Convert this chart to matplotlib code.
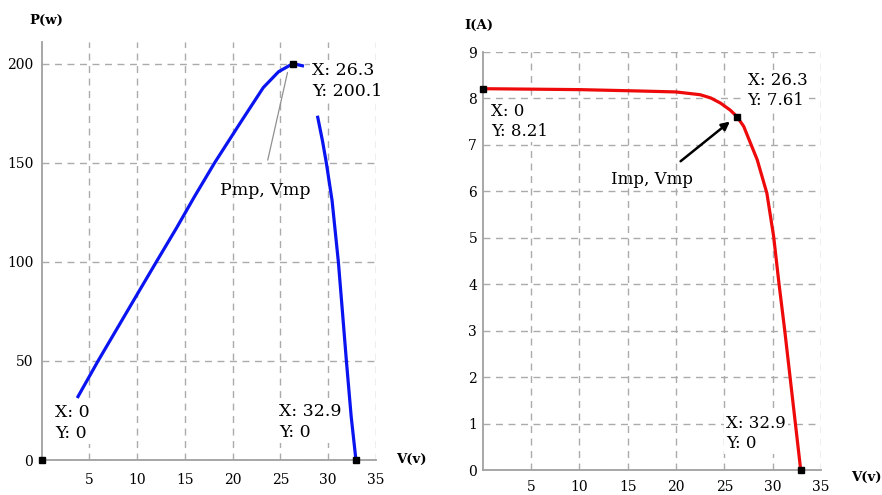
import matplotlib
matplotlib.use("Agg")
import matplotlib.pyplot as plt

nan = float("nan")

# P-V curve; the data tips hide parts of it, hence the gaps
pv_v = [3.8, 5.9, 9.8, 12.0, 14.1, 16.0, 18.1, 20.9, 23.2, 24.8, 26.3, 27.3,
        nan, 28.9, 29.4, 29.8, 30.4, 31.06, 31.5, 31.9, 32.4, 32.9]
pv_p = [32, 50, 82, 100, 117, 133, 150, 171, 188, 196, 200.1, 199,
        nan, 173, 161, 150, 131, 100, 74, 50, 22, 0]

# I-V curve
iv_v = [0, 10, 16.3, 20, 22.5, 23.6, 24.6, 25.6, 26.3, 27.0, 28.4, 29.4, 30.1, 30.65, 31.25, 31.8, 32.35, 32.9]
iv_i = [8.21, 8.19, 8.16, 8.14, 8.08, 8.01, 7.90, 7.75, 7.61, 7.40, 6.68, 5.96, 5.03, 4.02, 3.0, 2.0, 1.0, 0]

# data tips
pv_tips = [(0, 0), (26.3, 200.1), (32.9, 0)]
iv_tips = [(0, 8.21), (26.3, 7.61), (32.9, 0)]

x_ticks = [5, 10, 15, 20, 25, 30, 35]
p_ticks = [0, 50, 100, 150, 200]
i_ticks = [0, 1, 2, 3, 4, 5, 6, 7, 8, 9]

W, H = 882, 495
SERIF = "DejaVu Serif"
GRID = "#ababab"


def px_axes(fig, x0, y0, x1, y1):
    # pixel box (top-left origin) -> figure fraction axes
    return fig.add_axes([x0 / W, 1 - y1 / H, (x1 - x0) / W, (y1 - y0) / H])


def style_axes(ax, yticks, xpad, ypad):
    for s in ["top", "right"]:
        ax.spines[s].set_visible(False)
    for s in ["left", "bottom"]:
        ax.spines[s].set_color("#a0a0a0")
        ax.spines[s].set_linewidth(1.3)
    ax.set_xticks(x_ticks)
    ax.set_yticks(yticks)
    ax.tick_params(length=0, labelsize=10)
    ax.tick_params(axis="x", pad=xpad)
    ax.tick_params(axis="y", pad=ypad)
    for lab in ax.get_xticklabels() + ax.get_yticklabels():
        lab.set_fontfamily(SERIF)
    ax.grid(True, color=GRID, linestyle=(0, (5, 4)), linewidth=1.0)
    ax.set_axisbelow(True)


def tip(ax, x, y, s, size, ls):
    ax.text(x, y, s, fontsize=size, family=SERIF, va="top", ha="left",
            linespacing=ls, zorder=5, clip_on=False,
            bbox=dict(facecolor="white", edgecolor="none", pad=1.5))


fig = plt.figure(figsize=(W / 100, H / 100), dpi=100)

# ---- left: P-V ----
ax1 = px_axes(fig, 41.7, 42, 376, 460)
ax1.set_xlim(0, 35)
ax1.set_ylim(0, 211)
style_axes(ax1, p_ticks, 9, 6)
ax1.plot(pv_v, pv_p, color="#0a14f0", linewidth=2.3, zorder=3)
ax1.plot([t[0] for t in pv_tips], [t[1] for t in pv_tips], "s", color="black",
         markersize=5, zorder=6, clip_on=False)
tip(ax1, 1.39, 28.5, "X: 0\nY: 0", 12.5, 1.35)
tip(ax1, 28.3, 201, "X: 26.3\nY: 200.1", 12.5, 1.35)
tip(ax1, 24.85, 29, "X: 32.9\nY: 0", 12.5, 1.35)
ax1.annotate("", xy=(25.8, 197), xytext=(23.6, 150),
             arrowprops=dict(arrowstyle="-", color="#909090", lw=0.9), zorder=4)
ax1.text(23.4, 136, "Pmp, Vmp", fontsize=12.5, family=SERIF, ha="center", va="center", zorder=5)

# ---- right: I-V ----
ax2 = px_axes(fig, 482.7, 52, 821, 470)
ax2.set_xlim(0, 35)
ax2.set_ylim(0, 9)
style_axes(ax2, i_ticks, 7.5, 4)
ax2.plot(iv_v, iv_i, color="#ee0a0a", linewidth=2.3, zorder=3)
ax2.plot([t[0] for t in iv_tips], [t[1] for t in iv_tips], "s", color="black",
         markersize=5, zorder=6, clip_on=False)
tip(ax2, 0.86, 7.9, "X: 0\nY: 8.21", 12, 1.25)
tip(ax2, 27.4, 8.58, "X: 26.3\nY: 7.61", 12, 1.25)
tip(ax2, 25.2, 1.18, "X: 32.9\nY: 0", 12, 1.25)
ax2.annotate("", xy=(25.8, 7.54), xytext=(20.25, 6.61),
             arrowprops=dict(arrowstyle="-|>", color="black", lw=1.8, mutation_scale=12), zorder=4)
ax2.text(17.5, 6.25, "Imp, Vmp", fontsize=12, family=SERIF, ha="center", va="center", zorder=5)

# axis labels
def fig_label(x, y, s):
    fig.text(x / W, 1 - y / H, s, fontsize=9.5, family=SERIF, fontweight="bold",
             ha="center", va="center")

fig_label(46, 20, "P(w)")
fig_label(411, 459, "V(v)")
fig_label(479, 25, "I(A)")
fig_label(866, 477, "V(v)")

fig.savefig("out.png", dpi=100, facecolor="white")
